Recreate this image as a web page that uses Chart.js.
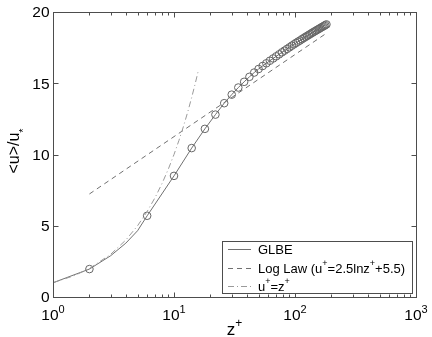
<!DOCTYPE html>
<html>
<head>
<meta charset="utf-8">
<script src="https://cdn.jsdelivr.net/npm/chart.js@4.4.1/dist/chart.umd.min.js"></script>
<style>
html, body { margin: 0; padding: 0; background: #fff; }
</style>
</head>
<body>
<canvas id="chart" width="432" height="337"></canvas>
<script>
// GLBE profile, z+ and <u>/u* (markers every 4th wall unit from z+=2)
const glbeZ = [1, 2, 3, 4, 5, 6, 10, 14, 18, 22, 26, 30, 34, 38, 42, 46, 50, 54, 58, 62, 66, 70, 74, 78, 82, 86,
  90, 94, 98, 102, 106, 110, 114, 118, 122, 126, 130, 134, 138, 142, 146, 150, 154, 158, 162, 166, 170, 174, 178, 182];
const glbeU = [1.0, 1.96, 2.9, 3.78, 4.65, 5.7, 8.5, 10.45, 11.8, 12.8, 13.6, 14.2, 14.7, 15.1, 15.45, 15.75, 16.0,
  16.21, 16.4, 16.58, 16.74, 16.89, 17.03, 17.17, 17.29, 17.41, 17.52, 17.63, 17.73, 17.83, 17.92, 18.0, 18.09,
  18.17, 18.25, 18.32, 18.39, 18.46, 18.53, 18.59, 18.65, 18.71, 18.77, 18.82, 18.88, 18.93, 18.98, 19.03, 19.08, 19.13];

// log law u+ = 2.5 ln z+ + 5.5 (straight on the log axis)
const logLawZ = [2, 182];
const logLawU = [7.23, 18.51];

// viscous sublayer u+ = z+
const linZ = [1, 1.5, 2, 3, 4, 5, 6, 7, 8, 9, 10, 11, 12, 13, 14, 15, 15.8];
const linU = [1, 1.5, 2, 3, 4, 5, 6, 7, 8, 9, 10, 11, 12, 13, 14, 15, 15.8];

const xDecades = [1, 10, 100, 1000];
const xExponents = ['0', '1', '2', '3'];
const yTicks = [0, 5, 10, 15, 20];

const FONT = '"Liberation Sans", Arial, Helvetica, sans-serif';
const axisColor = '#4d4d4d';

function pts(xs, ys) {
    return xs.map((v, i) => ({ x: v, y: ys[i] }));
}

// draws text made of normal / sup / sub pieces, returns width
function richText(ctx, parts, x, y, size, align) {
    const small = Math.round(size * 0.68);
    let total = 0;
    parts.forEach(p => {
        ctx.font = (p.size || (p.sup || p.sub ? small : size)) + 'px ' + FONT;
        p.w = ctx.measureText(p.t).width;
        total += p.w;
    });
    let cx = align === 'center' ? x - total / 2 : x;
    parts.forEach(p => {
        ctx.font = (p.size || (p.sup || p.sub ? small : size)) + 'px ' + FONT;
        let dy = 0;
        if (p.sup) dy = -size * 0.45;
        if (p.sub) dy = p.dy !== undefined ? p.dy : size * 0.25;
        ctx.fillText(p.t, cx, y + dy);
        cx += p.w;
    });
    return total;
}

const legendItems = [
    { parts: [{ t: 'GLBE' }], color: '#707070', dash: [] },
    { parts: [{ t: 'Log Law (u' }, { t: '+', sup: true }, { t: '=2.5lnz' }, { t: '+', sup: true }, { t: '+5.5)' }], color: '#707070', dash: [5, 4] },
    { parts: [{ t: 'u' }, { t: '+', sup: true }, { t: '=z' }, { t: '+', sup: true }], color: '#9a9a9a', dash: [6, 3, 1, 3] }
];

const decorations = {
    id: 'decorations',
    afterDraw(chart) {
        const { ctx, chartArea: a, scales: { x, y } } = chart;
        const L = Math.round(a.left) + 0.5, R = Math.round(a.right) + 0.5;
        const T = Math.round(a.top) + 0.5, B = Math.round(a.bottom) + 0.5;
        ctx.save();
        ctx.strokeStyle = axisColor;
        ctx.lineWidth = 1;
        ctx.setLineDash([]);

        // inward ticks on all four sides
        ctx.beginPath();
        for (let d = 0; d < xDecades.length - 1; d++) {
            for (let m = 2; m <= 9; m++) {
                const px = Math.round(x.getPixelForValue(xDecades[d] * m)) + 0.5;
                ctx.moveTo(px, B); ctx.lineTo(px, B - 3);
                ctx.moveTo(px, T); ctx.lineTo(px, T + 3);
            }
        }
        xDecades.forEach(v => {
            const px = Math.round(x.getPixelForValue(v)) + 0.5;
            ctx.moveTo(px, B); ctx.lineTo(px, B - 5);
            ctx.moveTo(px, T); ctx.lineTo(px, T + 5);
        });
        yTicks.forEach(v => {
            const py = Math.round(y.getPixelForValue(v)) + 0.5;
            ctx.moveTo(L, py); ctx.lineTo(L + 5, py);
            ctx.moveTo(R, py); ctx.lineTo(R - 5, py);
        });
        ctx.stroke();
        ctx.strokeRect(L, T, R - L, B - T);

        // tick labels
        ctx.fillStyle = '#000';
        ctx.textBaseline = 'alphabetic';
        ctx.textAlign = 'left';
        xDecades.forEach((v, i) => {
            richText(ctx, [{ t: '10' }, { t: xExponents[i], sup: true }], x.getPixelForValue(v), 320, 15.5, 'center');
        });
        ctx.font = '15.5px ' + FONT;
        ctx.textAlign = 'right';
        ctx.textBaseline = 'middle';
        yTicks.forEach(v => {
            ctx.fillText(String(v), L - 4, y.getPixelForValue(v) + 1);
        });

        // axis titles
        ctx.textAlign = 'left';
        ctx.textBaseline = 'alphabetic';
        richText(ctx, [{ t: 'z' }, { t: '+', sup: true }], (a.left + a.right) / 2, 335, 17, 'center');
        ctx.save();
        ctx.translate(18.5, 151);
        ctx.rotate(-Math.PI / 2);
        richText(ctx, [{ t: '<u>/u' }, { t: '*', sub: true, size: 11, dy: 8 }], 0, 0, 16, 'center');
        ctx.restore();

        // legend box
        const bx = 222.5, by = 241.5, bw = 190, bh = 52;
        ctx.fillStyle = '#fff';
        ctx.fillRect(bx, by, bw, bh);
        ctx.strokeStyle = axisColor;
        ctx.strokeRect(bx, by, bw, bh);
        const rows = [249.5, 268.5, 286.5];
        legendItems.forEach((it, i) => {
            ctx.strokeStyle = it.color;
            ctx.setLineDash(it.dash);
            ctx.beginPath();
            ctx.moveTo(228, rows[i]);
            ctx.lineTo(251, rows[i]);
            ctx.stroke();
            ctx.setLineDash([]);
            ctx.fillStyle = '#000';
            ctx.textBaseline = 'middle';
            richText(ctx, it.parts, 258, rows[i] + 0.5, 13, 'left');
        });
        ctx.restore();
    }
};

new Chart(document.getElementById('chart'), {
    type: 'scatter',
    data: {
        datasets: [
            {
                label: 'u+=z+',
                data: pts(linZ, linU),
                showLine: true,
                borderColor: '#9a9a9a',
                borderWidth: 1,
                borderDash: [6, 3, 1, 3],
                pointRadius: 0
            },
            {
                label: 'Log Law',
                data: pts(logLawZ, logLawU),
                showLine: true,
                borderColor: '#707070',
                borderWidth: 1,
                borderDash: [5, 4],
                pointRadius: 0
            },
            {
                label: 'GLBE',
                data: pts(glbeZ, glbeU),
                showLine: true,
                borderColor: '#707070',
                borderWidth: 1,
                pointStyle: 'circle',
                pointRadius: c => ((glbeZ[c.dataIndex] - 2) % 4 === 0 ? 3.8 : 0),
                pointBorderColor: '#666',
                pointBorderWidth: 1,
                pointBackgroundColor: 'rgba(0,0,0,0)'
            }
        ]
    },
    options: {
        responsive: false,
        animation: false,
        devicePixelRatio: 1,
        layout: { padding: { left: 53, right: 16, top: 12, bottom: 40 } },
        scales: {
            x: { type: 'logarithmic', min: 1, max: 1000, display: false },
            y: { type: 'linear', min: 0, max: 20, display: false }
        },
        plugins: {
            legend: { display: false },
            tooltip: { enabled: false }
        }
    },
    plugins: [decorations]
});
</script>
</body>
</html>
